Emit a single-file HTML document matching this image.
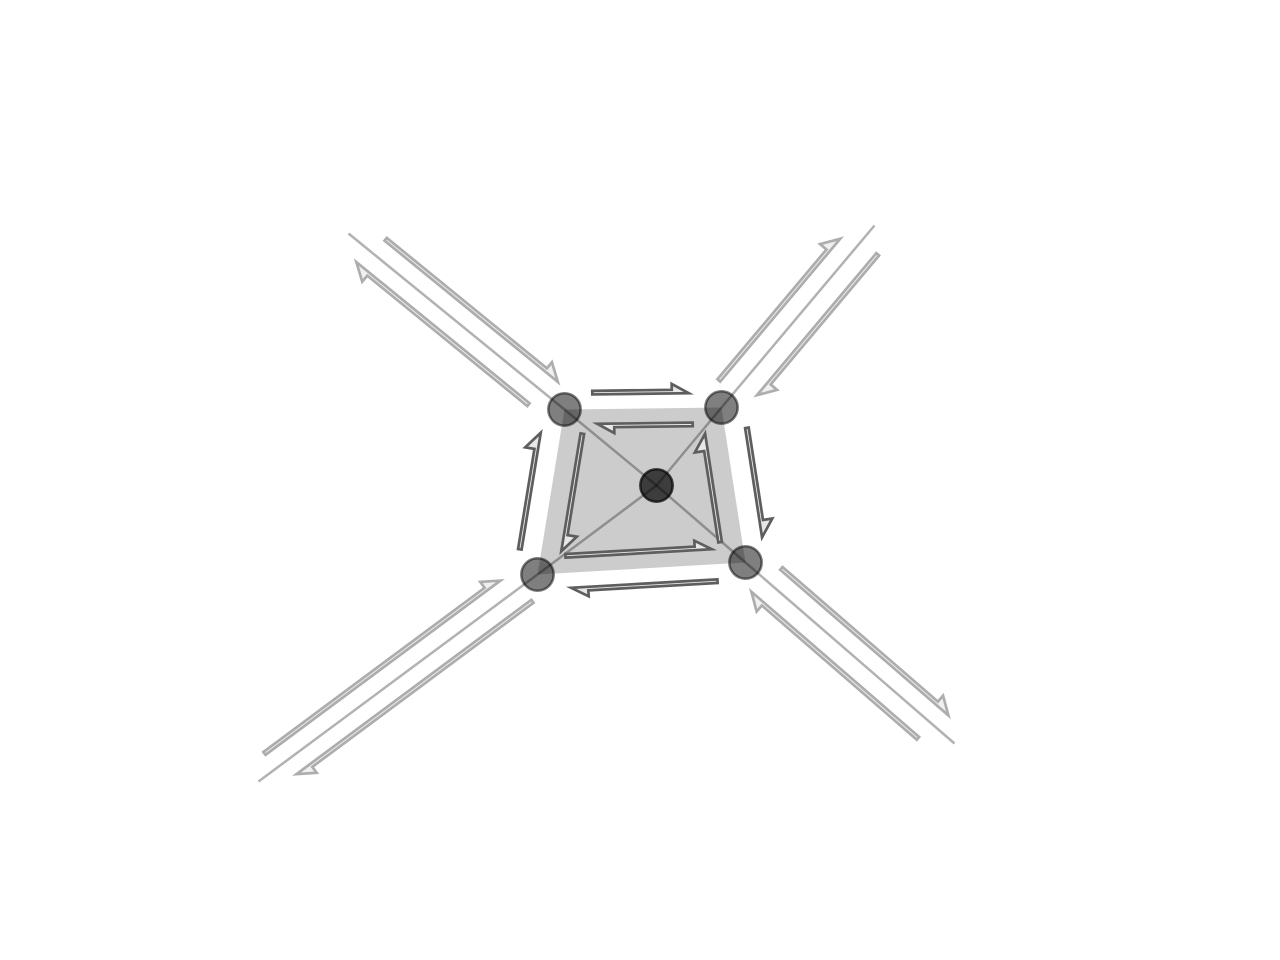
<!DOCTYPE html>
<html>
<head>
<meta charset="utf-8">
<title>Flow network diagram</title>
<style>
html,body{margin:0;padding:0;background:#fff;width:1280px;height:960px;overflow:hidden}
svg{display:block}
</style>
</head>
<body>
<svg id="chart" xmlns="http://www.w3.org/2000/svg" width="1280" height="960" viewBox="0 0 1280 960"></svg>
<script>
const nodeNames = ['center','tl','tr','br','bl','out-tl','out-tr','out-br','out-bl'];
const nodeX = [0.16,-0.76,0.81,1.05,-1.03,-2.92,2.34,3.14,-3.82];
const nodeY = [-0.05,0.71,0.73,-0.82,-0.94,2.47,2.55,-2.63,-3.01];
const regionNodes = [1,2,3,4];
const visibleNodes = [1,2,3,4,0];
const linkFrom = [0,0,0,0,1,2,3,4];
const linkTo = [1,2,3,4,5,6,7,8];
const arrowFrom = [1,2,2,3,3,4,4,1,1,5,2,6,3,7,4,8];
const arrowTo = [2,1,3,2,4,3,1,4,5,1,6,2,7,3,8,4];
const arrowStart = [28,29,24,24,29,29,22,21,31,32.5,19,20,31,31,20,21.5];
const arrowEnd = [126,126,136,135,177,177,142,142,256,257.5,207,207,255,254.5,314,315.5];
const arrowLane = [15,15,20.5,20.5,15.5,15.5,20,20,17.5,17.5,18,19.5,17.5,18.5,17,17.5];
const arrowBarb = [9.5,9.5,13,13,9.5,9.5,13,13,11.5,11.5,12,12,11.5,11.5,11,11];
const arrowTier = [0,0,0,0,0,0,0,0,1,1,1,1,1,1,1,1];

const svgNS = 'http://www.w3.org/2000/svg';
const svg = document.getElementById('chart');
const xScale = v => 640.5 + v * 100;
const yScale = v => 480.5 - v * 100;
const px = i => [xScale(nodeX[i]), yScale(nodeY[i])];
function make(tag, attrs){
  const el = document.createElementNS(svgNS, tag);
  for (const k in attrs) el.setAttribute(k, attrs[k]);
  svg.appendChild(el);
  return el;
}

const region = make('polygon', {
  points: regionNodes.map(i => px(i).join(',')).join(' '),
  fill: '#000', 'fill-opacity': 0.2
});



visibleNodes.forEach(i => {
  const [cx, cy] = px(i);
  const isCenter = nodeNames[i] === 'center';
  const c = make('circle', {
    cx: cx, cy: cy, r: 16.2,
    fill: '#000', 'fill-opacity': isCenter ? 0.7 : 0.5,
    stroke: '#000', 'stroke-opacity': isCenter ? 0.7 : 0.5, 'stroke-width': 2.5
  });
  
  
});

linkFrom.forEach((f, k) => {
  const [x1, y1] = px(f);
  const [x2, y2] = px(linkTo[k]);
  const l = make('line', {
    x1: x1, y1: y1, x2: x2, y2: y2,
    stroke: '#000', 'stroke-opacity': 0.3, 'stroke-width': 2.5
  });
  
  
});

const shaftW = 3.6, headL = 17;
arrowFrom.forEach((f, k) => {
  const [ax, ay] = px(f);
  const [bx, by] = px(arrowTo[k]);
  const L = Math.hypot(bx - ax, by - ay);
  const dx = (bx - ax) / L, dy = (by - ay) / L;
  const nx = dy, ny = -dx;
  const s = arrowStart[k], e = arrowEnd[k] - 1.5, o = arrowLane[k] - 0.3, w = arrowBarb[k];
  const pt = (al, pe) => (ax + dx * al + nx * pe).toFixed(2) + ',' + (ay + dy * al + ny * pe).toFixed(2);
  const pts = [
    pt(s, o), pt(e, o), pt(e - headL, o + w),
    pt(e - headL, o + shaftW), pt(s, o + shaftW)
  ].join(' ');
  const a = make('polygon', {
    points: pts,
    fill: arrowTier[k] ? '#f0f0f0' : '#e8e8e8',
    stroke: arrowTier[k] ? '#adadad' : '#5e5e5e',
    'stroke-width': 2.7, 'stroke-linejoin': 'miter', 'stroke-miterlimit': 10
  });
  
  
});
</script>
</body>
</html>
